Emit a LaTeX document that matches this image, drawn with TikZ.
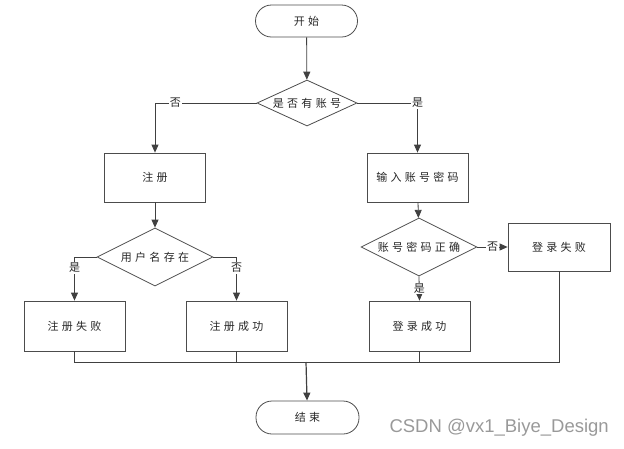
\documentclass[tikz,border=0pt]{standalone}
\usepackage{fontspec}
\newfontfamily\cjk[LetterSpace=30]{Noto Sans CJK SC}
\setsansfont{Liberation Sans}
\usetikzlibrary{shapes.geometric,arrows.meta}
\begin{document}
\begin{tikzpicture}[x=1pt,y=-1pt,
 every node/.style={font=\cjk\fontsize{11}{11}\selectfont, text=black!85},
 stepbox/.style={draw=black!70, line width=0.8pt, minimum width=101pt, minimum height=49pt, inner sep=0},
 term/.style={draw=black!70, line width=0.8pt, rounded corners=16pt, minimum width=102pt, minimum height=32pt, inner sep=0},
 decision/.style={draw=black!70, line width=0.8pt, diamond, aspect=2, inner sep=0},
 conn/.style={draw=black!75, line width=0.8pt},
 arr/.style={conn, -{Triangle[length=8pt,width=7pt]}},
 lab/.style={fill=white, inner sep=1pt}
]
\useasboundingbox (0,0) rectangle (624,448);
\node[term] (start) at (306.5,21) {开始};
\node[decision, minimum width=100pt, minimum height=46pt] (d1) at (307,103) {是否有账号};
\node[stepbox] (reg) at (155,177.5) {注册};
\node[stepbox] (inp) at (417.5,177.5) {输入账号密码};
\node[decision, minimum width=116pt, minimum height=58pt] (d2) at (155,257) {用户名存在};
\node[decision, minimum width=116pt, minimum height=58pt] (d3) at (419,247) {账号密码正确};
\node[stepbox, minimum width=102pt, minimum height=48pt] (lfail) at (559,247) {登录失败};
\node[stepbox, minimum height=50pt] (rfail) at (74.5,326) {注册失败};
\node[stepbox, minimum height=50pt] (rok) at (236.5,326) {注册成功};
\node[stepbox, minimum height=50pt] (lok) at (419.5,326) {登录成功};
\node[term, minimum width=103pt, minimum height=33pt] (end) at (307.5,417.5) {结束};
\coordinate (j) at (306,362);
\draw[arr] (start) -- (d1);
\draw[arr] (d1.west) -| (reg.north) node[lab, pos=0.4] {否};
\draw[arr] (d1.east) -| (inp.north) node[lab, pos=0.5] {是};
\draw[arr] (reg) -- (d2);
\draw[arr] (inp) -- (d3);
\draw[arr] (d2.west) -| (rfail.north) node[lab, pos=0.625] {是};
\draw[arr] (d2.east) -| (rok.north) node[lab, pos=0.625] {否};
\draw[arr] (d3.east) -- (lfail.west) node[lab, pos=0.5] {否};
\draw[arr] (d3.south) -- (lok.north) node[lab, pos=0.5] {是};
\draw[conn] (rfail.south) |- (lfail.south |- j) -- (lfail.south);
\draw[conn] (rok.south) -- (rok.south |- j);
\draw[conn] (lok.south) -- (lok.south |- j);
\draw[arr, line width=1.2pt] (j) -- (end);
\node[font=\sffamily\fontsize{18.5}{18.5}\selectfont, text=black!40, anchor=east, inner sep=0] (wm) at (609,428) {CSDN @vx1\_Biye\_Design};
\end{tikzpicture}
\end{document}
